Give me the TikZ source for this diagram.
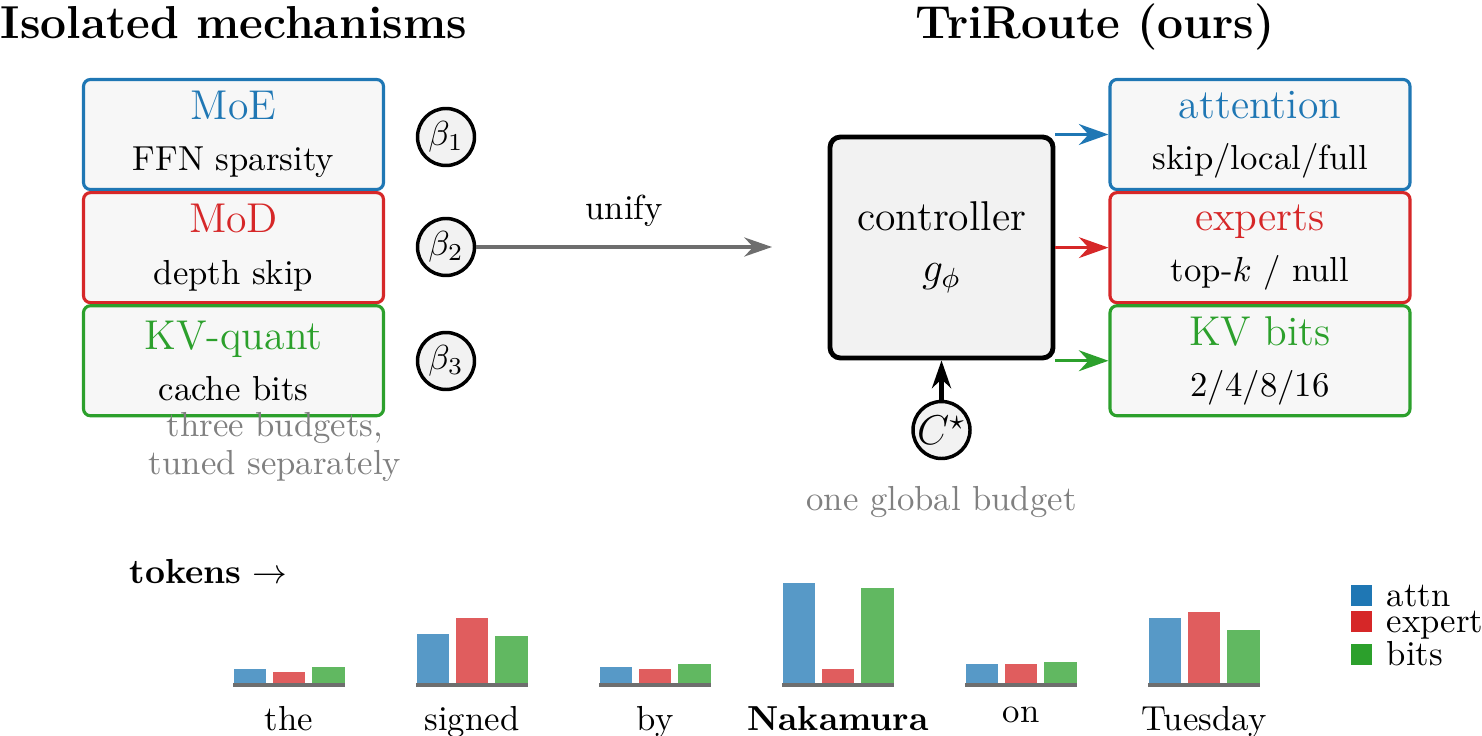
\documentclass[tikz,border=0pt]{standalone}
\usepackage{amsmath}
\usepackage{tikz}
\usetikzlibrary{arrows.meta,positioning}
\definecolor{tabblue}{HTML}{1F77B4}
\definecolor{tabred}{HTML}{D62728}
\definecolor{tabgreen}{HTML}{2CA02C}
\definecolor{boxfill}{HTML}{F7F7F7}
\definecolor{ctrlfill}{HTML}{F2F2F2}
\definecolor{notegray}{HTML}{808080}
\definecolor{axisgray}{HTML}{6E6E6E}

\begin{document}
\begin{tikzpicture}[x=0.288pt,y=-0.288pt,
    mechbox/.style={draw=#1, line width=0.9pt, rounded corners=2pt, fill=boxfill,
      minimum width=300*0.288pt, minimum height=110*0.288pt, inner sep=0pt, align=center},
    budget/.style={circle, draw, line width=1pt, fill=ctrlfill, minimum size=57*0.288pt, inner sep=0pt},
    routearrow/.style={line width=0.9pt, -{Stealth[length=8.5pt,width=6pt]}},
    note/.style={text=notegray, inner sep=0pt, align=center}]
    \useasboundingbox (0,0) rectangle (1482,736);
    % titles
    \node[anchor=base west, inner sep=0pt, font=\fontsize{13.3}{15}\selectfont\bfseries] (leftTitle) at (0,39) {Isolated mechanisms};
    \node[anchor=base, inner sep=0pt, font=\fontsize{13.3}{15}\selectfont\bfseries] (rightTitle) at (1095,39) {TriRoute (ours)};
    % isolated mechanisms
    \node[mechbox=tabblue] (moe) at (233.5,134.5) {{\large\color{tabblue}MoE}\\[2.8pt]FFN sparsity};
    \node[mechbox=tabred, below=0pt of moe] (mod) {{\large\color{tabred}MoD}\\[2.8pt]depth skip};
    \node[mechbox=tabgreen, below=0pt of mod] (kvq) {{\large\color{tabgreen}KV-quant}\\[2.8pt]cache bits};
    \node[budget] (b1) at (446,137) {$\beta_1$};
    \node[budget] (b2) at (446,247) {$\beta_2$};
    \node[budget] (b3) at (446,361) {$\beta_3$};
    \node[note] (threeNote) at (275,447) {three budgets,\\[-1pt]tuned separately};
    % unify
    \coordinate (unifyEnd) at (772,247);
    \draw[line width=0.9pt, axisgray, -{Stealth[length=8pt,width=5.5pt]}] (b2) -- (unifyEnd)
        node[midway, above=5.5pt, inner sep=0pt, text=black] {unify};
    % TriRoute
    \node[draw, line width=1.4pt, rounded corners=3pt, fill=ctrlfill, minimum width=223*0.288pt,
        minimum height=221*0.288pt, align=center, font=\large] (ctrl) at (941.5,247.5) {controller\\[0.5pt]$g_\phi$};
    \node[mechbox=tabblue] (att) at (1260,134.5) {{\large\color{tabblue}attention}\\[2.8pt]skip/local/full};
    \node[mechbox=tabred, below=0pt of att] (exp) {{\large\color{tabred}experts}\\[2.8pt]top-$k$ / null};
    \node[mechbox=tabgreen, below=0pt of exp] (kvb) {{\large\color{tabgreen}KV bits}\\[2.8pt]2/4/8/16};
    \draw[routearrow, tabblue] (att.west -| ctrl.east) -- (att.west);
    \draw[routearrow, tabred] (exp.west -| ctrl.east) -- (exp.west);
    \draw[routearrow, tabgreen] (kvb.west -| ctrl.east) -- (kvb.west);
    \node[budget, font=\large] (cstar) at (941.5,430) {$C^\star$};
    \draw[line width=1.2pt, -{Stealth[length=8pt,width=5.5pt]}] (cstar) -- (ctrl.south);
    \node[note, anchor=base] (oneNote) at (941.5,510) {one global budget};
    % token bars
    \node[anchor=base west, inner sep=0pt] (tokens) at (129,583) {\textbf{tokens} $\rightarrow$};
    \foreach \x/\w/\a/\e/\b [count=\i] in {289/the/15/12/17, 472/signed/50/66/48, 655/by/17/15/20,
        838/{\textbf{Nakamura}}/101/15/96, 1021/on/20/20/22, 1204/Tuesday/66/72/54} {
        \fill[tabblue, fill opacity=0.75] (\x-55,684) rectangle (\x-23,684-\a);
        \fill[tabred, fill opacity=0.75] (\x-16,684) rectangle (\x+16,684-\e);
        \fill[tabgreen, fill opacity=0.75] (\x+23,684) rectangle (\x+56,684-\b);
        \draw[axisgray, line width=0.9pt] (\x-56,685) -- (\x+56,685);
        \node[anchor=north, inner sep=0pt] (tok\i) at (\x,706) {\w};
    }
    % legend
    \foreach \c/\t/\yb [count=\i] in {tabblue/attn/606, tabred/expert/632, tabgreen/bits/665} {
        \node[fill=\c, minimum size=21*0.288pt, inner sep=0pt] (leg\i) at (1361.5,\yb-11) {};
        \node[anchor=base west, inner sep=0pt] (legText\i) at (1386,\yb) {\t};
    }
\end{tikzpicture}
\end{document}
